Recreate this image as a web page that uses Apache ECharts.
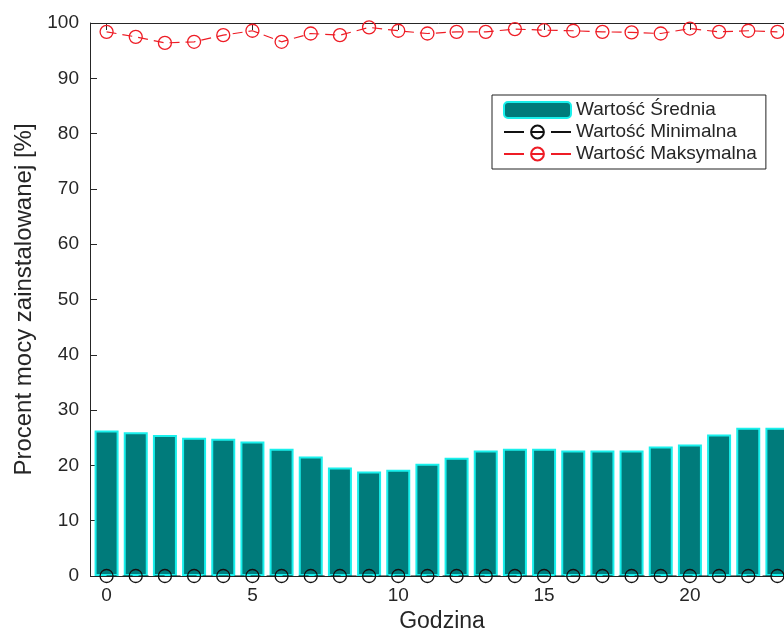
<!DOCTYPE html>
<html>
<head>
<meta charset="utf-8">
<script src="https://cdn.jsdelivr.net/npm/echarts@6/dist/echarts.min.js"></script>
<style>html,body{margin:0;padding:0;background:#fff;}#c{width:784px;height:634px;}</style>
</head>
<body>
<div id="c"></div>
<script>
const hours = ['0','1','2','3','4','5','6','7','8','9','10','11','12','13','14','15','16','17','18','19','20','21','22','23'];
const meanValues = [26.3, 26.0, 25.5, 25.0, 24.8, 24.3, 23.0, 21.6, 19.6, 18.9, 19.2, 20.3, 21.4, 22.7, 23.0, 23.0, 22.7, 22.7, 22.7, 23.4, 23.8, 25.6, 26.8, 26.8];
const minValues = [0, 0, 0, 0, 0, 0, 0, 0, 0, 0, 0, 0, 0, 0, 0, 0, 0, 0, 0, 0, 0, 0, 0, 0];
const maxValues = [98.4, 97.5, 96.4, 96.6, 97.8, 98.6, 96.6, 98.1, 97.8, 99.2, 98.6, 98.1, 98.4, 98.4, 98.9, 98.7, 98.6, 98.4, 98.3, 98.1, 99.0, 98.4, 98.6, 98.4];
const seriesNames = ['Wartość Średnia', 'Wartość Minimalna', 'Wartość Maksymalna'];
const xLabel = 'Godzina';
const yLabel = 'Procent mocy zainstalowanej [%]';

const FONT = '"Liberation Sans", Arial, Helvetica, sans-serif';
const TXT = '#262626';
const AX = '#262626';
const legendDash = [20, 8, 11, 8, 20, 8];

const chart = echarts.init(document.getElementById('c'), null, {renderer: 'canvas'});
chart.setOption({
  animation: false,
  backgroundColor: '#fff',
  textStyle: {fontFamily: FONT, color: TXT},
  grid: {left: 92, top: 23, width: 700, height: 553, containLabel: false, outerBoundsMode: 'none'},
  legend: {
    orient: 'vertical',
    left: 492, top: 95,
    padding: [5, 9, 5, 11],
    borderColor: '#222', borderWidth: 1, backgroundColor: '#fff',
    itemWidth: 67, itemHeight: 16, itemGap: 2,
    textStyle: {fontFamily: FONT, fontSize: 19, lineHeight: 20, color: TXT},
    data: [
      {name: seriesNames[0]},
      {name: seriesNames[1], lineStyle: {type: legendDash}},
      {name: seriesNames[2], lineStyle: {type: legendDash}}
    ]
  },
  xAxis: [{
    type: 'category',
    data: hours,
    boundaryGap: true,
    name: xLabel,
    nameLocation: 'middle',
    nameGap: 33,
    nameTextStyle: {fontFamily: FONT, fontSize: 23, color: TXT},
    axisLine: {show: true, lineStyle: {color: AX, width: 1}},
    axisTick: {show: true, inside: true, length: 7, alignWithLabel: true, interval: 4, lineStyle: {color: AX}},
    axisLabel: {interval: 4, fontFamily: FONT, fontSize: 19, color: TXT, margin: 10},
    splitLine: {show: false}
  }, {
    type: 'category',
    data: hours,
    position: 'top',
    boundaryGap: true,
    axisLine: {show: true, lineStyle: {color: AX, width: 1}},
    axisTick: {show: true, inside: true, length: 7, alignWithLabel: true, interval: 4, lineStyle: {color: AX}},
    axisLabel: {show: false},
    splitLine: {show: false}
  }],
  yAxis: {
    type: 'value',
    min: 0, max: 100, interval: 10,
    offset: 2,
    name: yLabel,
    nameLocation: 'middle',
    nameGap: 47,
    nameTextStyle: {fontFamily: FONT, fontSize: 24, color: TXT},
    axisLine: {show: true, lineStyle: {color: AX, width: 1}},
    axisTick: {show: true, inside: true, length: 7, lineStyle: {color: AX}},
    axisLabel: {fontFamily: FONT, fontSize: 19, color: TXT, margin: 11},
    splitLine: {show: false}
  },
  series: [{
    name: seriesNames[0],
    type: 'bar',
    data: meanValues,
    barWidth: 24,
    itemStyle: {color: '#007b7b', borderColor: '#19f0ec', borderWidth: 2},
    z: 2
  }, {
    name: seriesNames[1],
    type: 'line',
    data: minValues,
    symbol: 'circle',
    symbolSize: 13,
    itemStyle: {color: 'transparent', borderColor: '#111', borderWidth: 1.3},
    lineStyle: {color: '#111', width: 1.2, type: [10, 6]},
    z: 3
  }, {
    name: seriesNames[2],
    type: 'line',
    data: maxValues,
    symbol: 'circle',
    symbolSize: 13,
    itemStyle: {color: 'transparent', borderColor: '#ee1c25', borderWidth: 1.3},
    lineStyle: {color: '#ee1c25', width: 1.2, type: [10, 6]},
    z: 3
  }]
});
</script>
</body>
</html>
